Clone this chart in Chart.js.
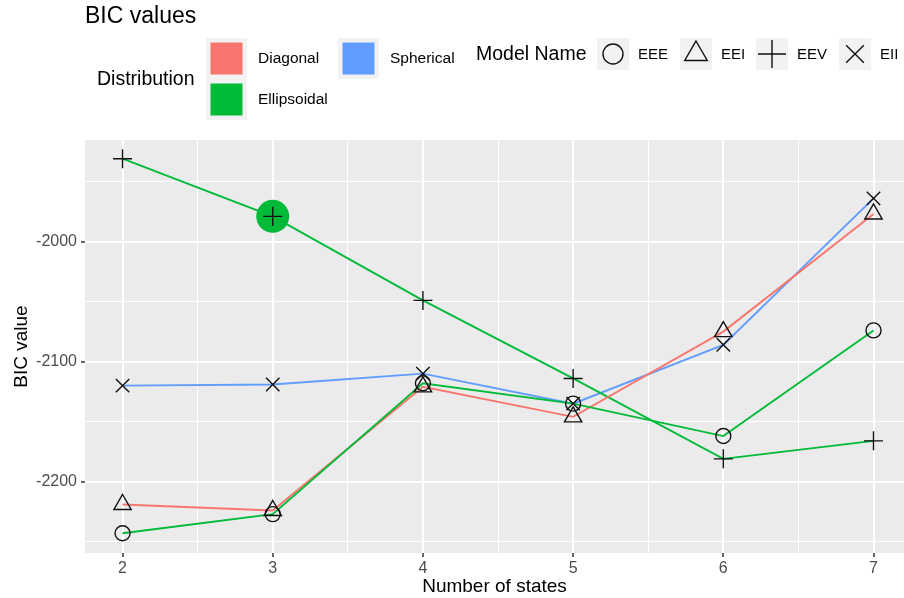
<!DOCTYPE html>
<html lang="en">
<head>
  <meta charset="UTF-8" />
  <title>BIC values</title>
  <script src="https://cdn.jsdelivr.net/npm/chart.js"></script>
  <style>
    html, body { margin: 0; padding: 0; background: #fff; }
  </style>
</head>
<body>
  <canvas id="bicChart" width="904" height="598"></canvas>

  <script>
    // values
    const states = [2, 3, 4, 5, 6, 7];
    const eee = [-2243, -2227, -2118, -2135, -2162, -2074];
    const eei = [-2219, -2224, -2121, -2146, -2075, -1977];
    const eev = [-1931, -1979, -2049, -2114, -2181, -2166];
    const eii = [-2120, -2119, -2110, -2135, -2086, -1964];
    const bestState = 3;
    const bestValue = -1979;

    const xTicks = [2, 2.5, 3, 3.5, 4, 4.5, 5, 5.5, 6, 6.5, 7];
    const yTicks = [-2250, -2200, -2150, -2100, -2050, -2000, -1950];
    const yLabels = [-2200, -2100, -2000];

    const distNames = ['Diagonal', 'Ellipsoidal', 'Spherical'];
    const distColors = ['#F8766D', '#00BA38', '#619CFF'];

    const modelNames = ['EEE', 'EEI', 'EEV', 'EII'];
    const modelValues = [eee, eei, eev, eii];
    const modelDist = ['Ellipsoidal', 'Diagonal', 'Ellipsoidal', 'Spherical'];
    const modelShapes = ['circle', 'triangle', 'cross', 'crossRot'];
    const modelRadius = [7.5, 10, 9.5, 9.5];

    const FONT = '"Liberation Sans", Arial, sans-serif';

    const toPoints = vals => states.map((s, i) => ({ x: s, y: vals[i] }));
    const colorOf = d => distColors[distNames.indexOf(d)];

    const datasets = [];
    // lines underneath
    modelNames.forEach((m, i) => {
      datasets.push({
        label: m,
        data: toPoints(modelValues[i]),
        borderColor: colorOf(modelDist[i]),
        borderWidth: 1.9,
        pointRadius: 0,
        fill: false,
        order: 3
      });
    });
    // best model highlight
    datasets.push({
      label: 'best',
      data: [{ x: bestState, y: bestValue }],
      showLine: false,
      pointRadius: 16.5,
      pointBackgroundColor: '#00BA38',
      pointBorderWidth: 0,
      order: 2
    });
    // markers on top
    modelNames.forEach((m, i) => {
      datasets.push({
        label: m + ' points',
        data: toPoints(modelValues[i]),
        showLine: false,
        pointStyle: modelShapes[i],
        pointRadius: modelRadius[i],
        pointBorderColor: '#111',
        pointBackgroundColor: 'rgba(0,0,0,0)',
        pointBorderWidth: 1.4,
        order: 1
      });
    });

    function drawShape(ctx, shape, x, y, r) {
      ctx.beginPath();
      if (shape === 'circle') {
        ctx.arc(x, y, r, 0, Math.PI * 2);
      } else if (shape === 'triangle') {
        const w = r * Math.sin(Math.PI / 3);
        ctx.moveTo(x, y - r);
        ctx.lineTo(x + w, y + r / 2);
        ctx.lineTo(x - w, y + r / 2);
        ctx.closePath();
      } else if (shape === 'cross') {
        ctx.moveTo(x - r, y); ctx.lineTo(x + r, y);
        ctx.moveTo(x, y - r); ctx.lineTo(x, y + r);
      } else {
        const d = r * Math.SQRT1_2;
        ctx.moveTo(x - d, y - d); ctx.lineTo(x + d, y + d);
        ctx.moveTo(x - d, y + d); ctx.lineTo(x + d, y - d);
      }
      ctx.stroke();
    }

    const panelBg = {
      id: 'panelBg',
      beforeDraw(chart) {
        const { ctx, chartArea: a } = chart;
        ctx.save();
        ctx.fillStyle = '#EBEBEB';
        ctx.fillRect(a.left, a.top, a.right - a.left, a.bottom - a.top);
        ctx.restore();
      }
    };

    const ggLegend = {
      id: 'ggLegend',
      afterDraw(chart) {
        const ctx = chart.ctx;
        ctx.save();
        ctx.fillStyle = '#000';
        ctx.textBaseline = 'middle';
        ctx.font = '23px ' + FONT;
        ctx.fillText('BIC values', 85, 17);

        // colour legend
        ctx.font = '19.5px ' + FONT;
        ctx.fillText('Distribution', 97, 80);
        const keyPos = [[206, 38], [206, 79], [338, 38]];
        ctx.font = '15.5px ' + FONT;
        distNames.forEach((d, i) => {
          const [kx, ky] = keyPos[i];
          ctx.fillStyle = '#F2F2F2';
          ctx.fillRect(kx, ky, 41, 41);
          ctx.fillStyle = distColors[i];
          ctx.fillRect(kx + 4.5, ky + 4.5, 32, 32);
          ctx.fillStyle = '#000';
          ctx.fillText(d, kx + 52, ky + 21);
        });

        // shape legend
        ctx.font = '19.5px ' + FONT;
        ctx.fillText('Model Name', 476, 55);
        const shapeX = [597, 680, 756, 839];
        const shapeR = [10, 13, 14, 12.5];
        ctx.font = '15px ' + FONT;
        ctx.strokeStyle = '#111';
        ctx.lineWidth = 1.4;
        modelNames.forEach((m, i) => {
          const sx = shapeX[i];
          ctx.fillStyle = '#F2F2F2';
          ctx.fillRect(sx, 38, 32, 32);
          drawShape(ctx, modelShapes[i], sx + 16, 54, shapeR[i]);
          ctx.fillStyle = '#000';
          ctx.fillText(m, sx + 41, 55);
        });
        ctx.restore();
      }
    };

    const ctx = document.getElementById('bicChart').getContext('2d');
    new Chart(ctx, {
      type: 'line',
      data: { datasets: datasets },
      plugins: [panelBg, ggLegend],
      options: {
        responsive: false,
        animation: false,
        layout: {
          autoPadding: false,
          padding: { top: 140, left: 0, right: 0, bottom: 0 }
        },
        plugins: {
          legend: { display: false },
          tooltip: { enabled: false }
        },
        scales: {
          x: {
            type: 'linear',
            min: 1.75,
            max: 7.203,
            afterBuildTicks: scale => { scale.ticks = xTicks.map(v => ({ value: v })); },
            afterFit: scale => {
              scale.height = 45;
              scale.paddingLeft = 0;
              scale.paddingRight = 0;
            },
            border: { display: false },
            grid: {
              color: '#FFFFFF',
              lineWidth: c => (Number.isInteger(c.tick.value) ? 2 : 1),
              tickColor: c => (Number.isInteger(c.tick.value) ? '#333333' : 'rgba(0,0,0,0)'),
              tickLength: 4,
              tickWidth: 1.5
            },
            ticks: {
              autoSkip: false,
              maxRotation: 0,
              padding: 2,
              color: '#4D4D4D',
              font: { family: FONT, size: 16 },
              callback: v => (Number.isInteger(v) ? String(v) : '')
            },
            title: {
              display: true,
              text: 'Number of states',
              color: '#000',
              font: { family: FONT, size: 19 },
              padding: { top: 0, bottom: 0 }
            }
          },
          y: {
            type: 'linear',
            min: -2259.4,
            max: -1915.4,
            afterBuildTicks: scale => { scale.ticks = yTicks.map(v => ({ value: v })); },
            afterFit: scale => {
              scale.width = 85;
              scale.paddingTop = 0;
              scale.paddingBottom = 0;
            },
            border: { display: false },
            grid: {
              color: '#FFFFFF',
              lineWidth: c => (yLabels.includes(c.tick.value) ? 2 : 1),
              tickColor: c => (yLabels.includes(c.tick.value) ? '#333333' : 'rgba(0,0,0,0)'),
              tickLength: 4,
              tickWidth: 1.5
            },
            ticks: {
              autoSkip: false,
              padding: 4,
              color: '#4D4D4D',
              font: { family: FONT, size: 16 },
              callback: v => (yLabels.includes(v) ? String(v) : '')
            },
            title: {
              display: true,
              text: 'BIC value',
              color: '#000',
              font: { family: FONT, size: 19 },
              padding: { top: 10, bottom: 0 }
            }
          }
        }
      }
    });
  </script>
</body>
</html>
